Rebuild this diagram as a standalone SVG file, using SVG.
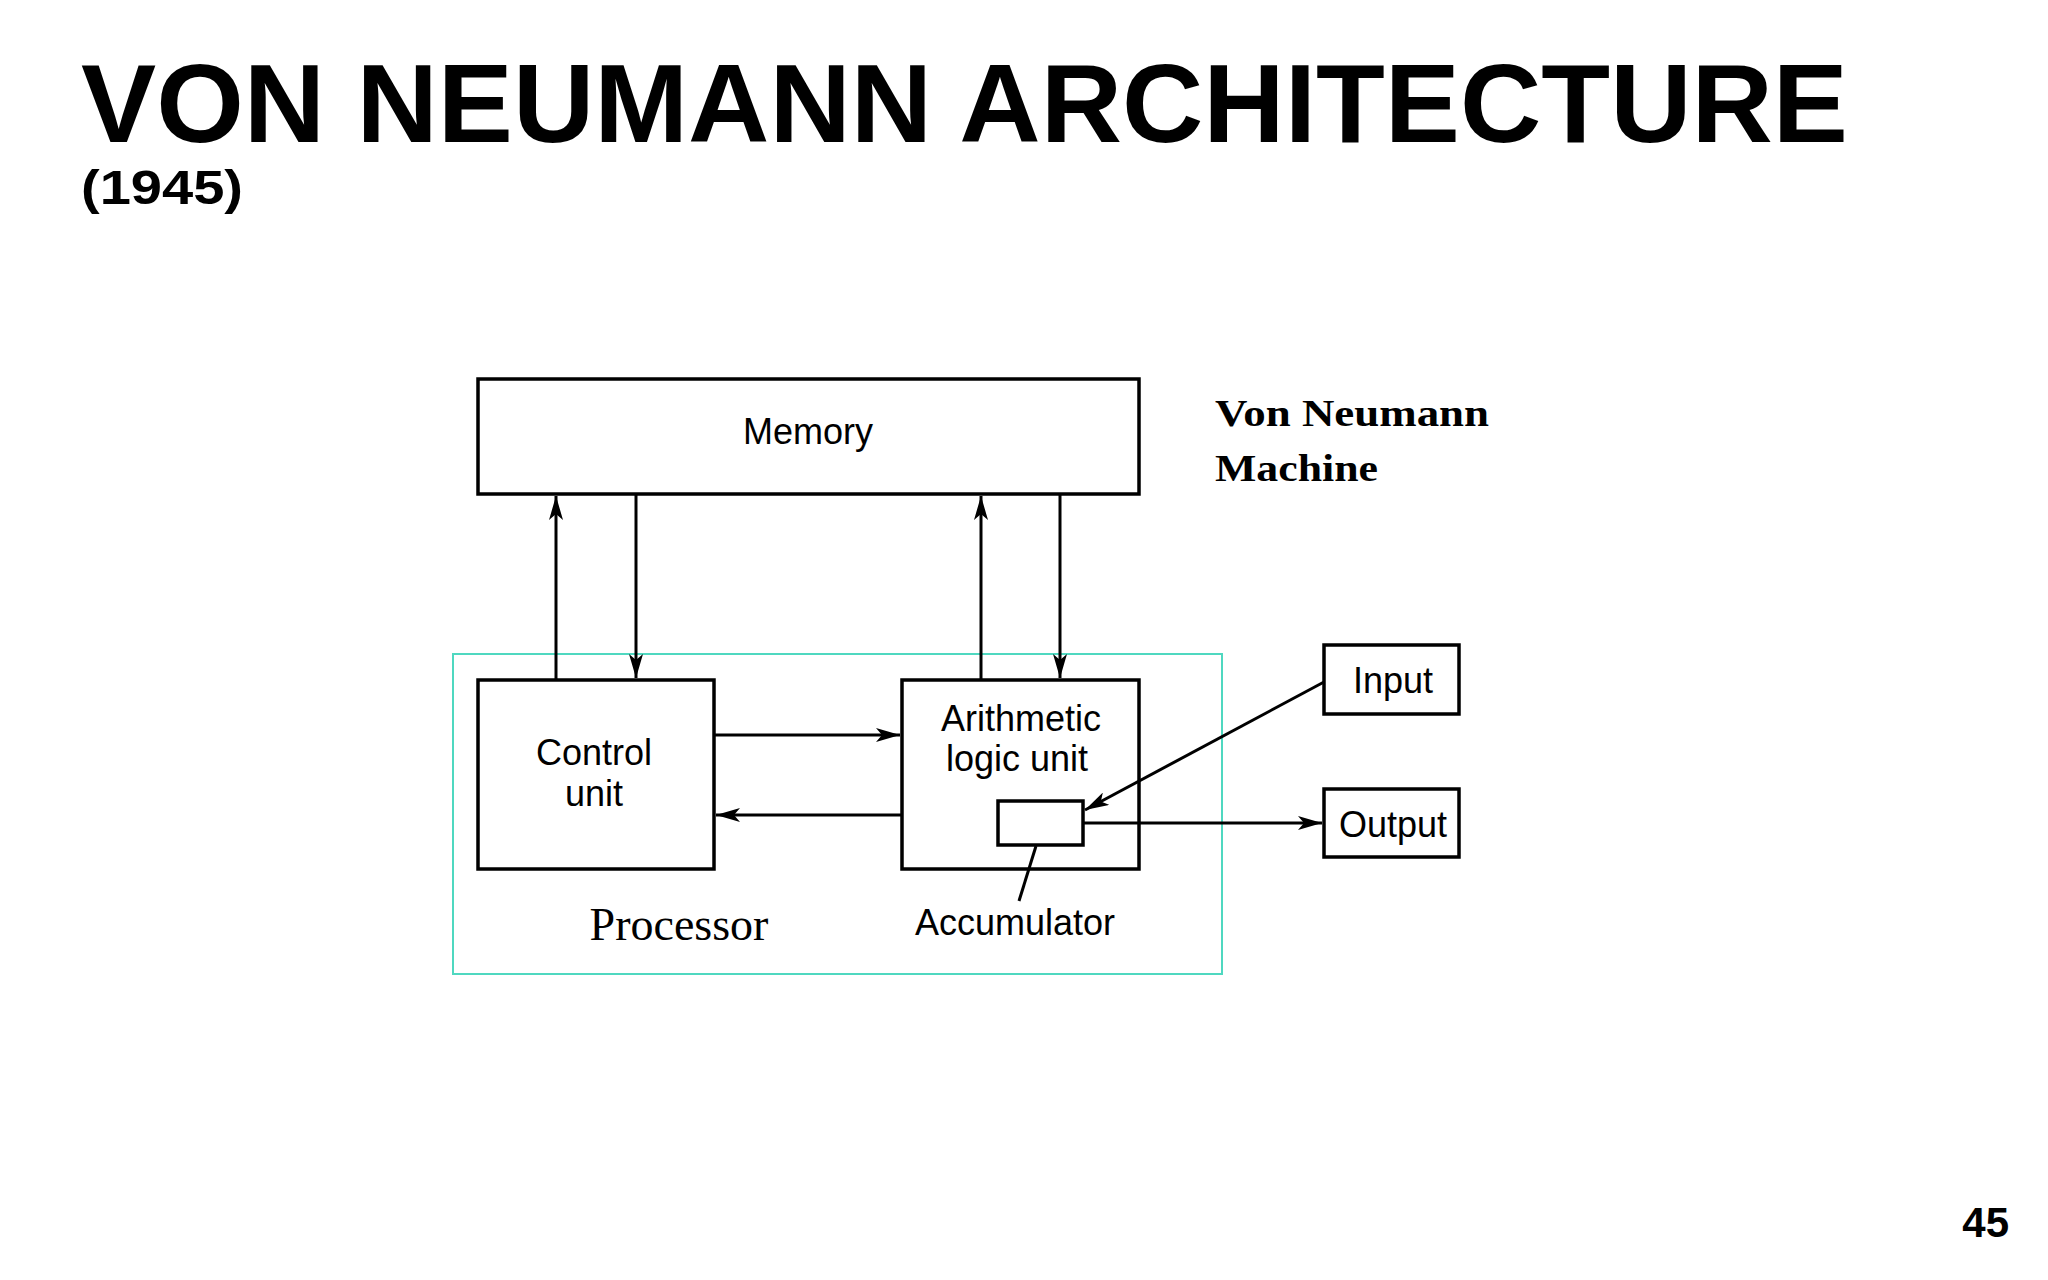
<svg xmlns="http://www.w3.org/2000/svg" width="2048" height="1280" viewBox="0 0 2048 1280">
<style>
.box{fill:#fff;stroke:#000;stroke-width:3.5}
.ln{stroke:#000;stroke-width:3;fill:none}
.h{font-family:"Liberation Sans",Arial,sans-serif;fill:#000}
.t{font-family:"Liberation Serif","Times New Roman",serif;fill:#000}
</style>
<defs>
<marker id="ah" viewBox="0 0 24 14" refX="24" refY="7" markerWidth="24" markerHeight="14" markerUnits="userSpaceOnUse" orient="auto">
<path d="M0,0 L24,7 L0,14 L6,7 Z" fill="#000"/>
</marker>
</defs>
<rect width="2048" height="1280" fill="#fff"/>
<text class="h" x="81" y="142" font-size="112" font-weight="bold" textLength="1767" lengthAdjust="spacingAndGlyphs">VON NEUMANN ARCHITECTURE</text>
<text class="h" x="81" y="204" font-size="48" font-weight="bold" textLength="162" lengthAdjust="spacingAndGlyphs">(1945)</text>
<g id="processor"><rect x="453" y="654" width="769" height="320" fill="none" stroke="#4fd8c0" stroke-width="2"/>
<text class="t" x="679" y="940" font-size="46" text-anchor="middle">Processor</text></g>
<g id="memory"><rect class="box" x="478" y="379" width="661" height="115"/>
<text class="h" x="808" y="444" font-size="36" text-anchor="middle">Memory</text></g>
<g id="title2"><text class="t" x="1215" y="426" font-size="38" font-weight="bold" textLength="274" lengthAdjust="spacingAndGlyphs">Von Neumann</text>
<text class="t" x="1215" y="481" font-size="38" font-weight="bold" textLength="163" lengthAdjust="spacingAndGlyphs">Machine</text></g>
<g id="control"><rect class="box" x="478" y="680" width="236" height="189"/>
<text class="h" x="594" y="765" font-size="36" text-anchor="middle">Control</text>
<text class="h" x="594" y="806" font-size="36" text-anchor="middle">unit</text></g>
<g id="alu"><rect class="box" x="902" y="680" width="237" height="189"/>
<text class="h" x="1021" y="731" font-size="36" text-anchor="middle">Arithmetic</text>
<text class="h" x="1017" y="771" font-size="36" text-anchor="middle">logic unit</text></g>
<g id="accumulator"><rect class="box" x="998" y="801" width="85" height="44"/>
<text class="h" x="1015" y="935" font-size="36" text-anchor="middle">Accumulator</text></g>
<g id="input"><rect class="box" x="1324" y="645" width="135" height="69"/>
<text class="h" x="1393" y="693" font-size="36" text-anchor="middle">Input</text></g>
<g id="output"><rect class="box" x="1324" y="789" width="135" height="68"/>
<text class="h" x="1393" y="837" font-size="36" text-anchor="middle">Output</text></g>
<g id="connectors">
<line class="ln" x1="556" y1="680" x2="556" y2="496" marker-end="url(#ah)"/>
<line class="ln" x1="636" y1="494" x2="636" y2="678" marker-end="url(#ah)"/>
<line class="ln" x1="981" y1="680" x2="981" y2="496" marker-end="url(#ah)"/>
<line class="ln" x1="1060" y1="494" x2="1060" y2="678" marker-end="url(#ah)"/>
<line class="ln" x1="714" y1="735" x2="900" y2="735" marker-end="url(#ah)"/>
<line class="ln" x1="902" y1="815" x2="716" y2="815" marker-end="url(#ah)"/>
<line class="ln" x1="1324" y1="682" x2="1085" y2="810" marker-end="url(#ah)" stroke-width="4"/>
<line class="ln" x1="1083" y1="823" x2="1322" y2="823" marker-end="url(#ah)"/>
<line class="ln" x1="1019" y1="901" x2="1036" y2="846" stroke-width="2"/>
</g>
<text class="h" x="2009" y="1237" font-size="42" font-weight="bold" text-anchor="end">45</text>
</svg>
